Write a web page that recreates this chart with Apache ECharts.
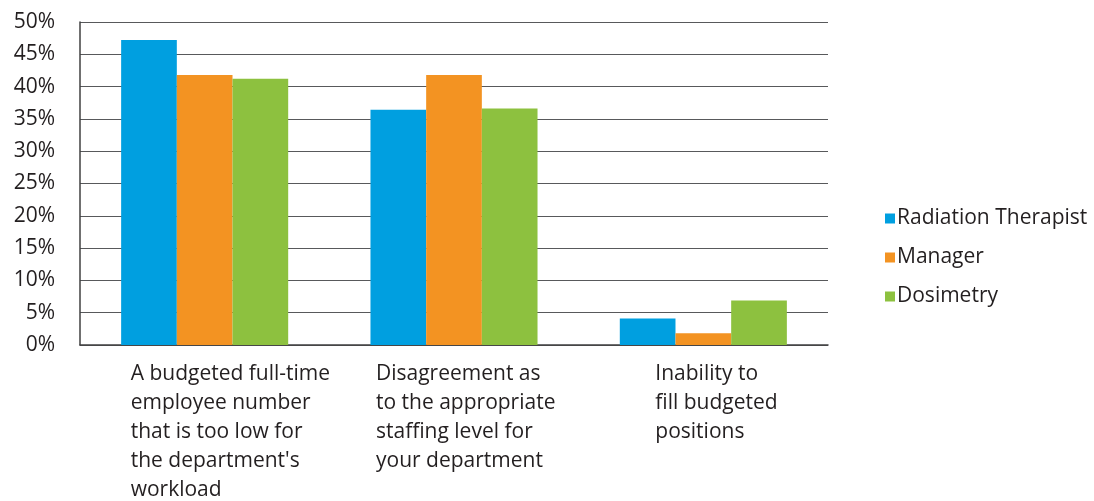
<!DOCTYPE html>
<html>
<head>
<meta charset="utf-8">
<script src="https://cdn.jsdelivr.net/npm/echarts@6/dist/echarts.min.js"></script>
<style>
  html, body { margin: 0; padding: 0; background: #fff; }
  #chart { width: 1094px; height: 501px; }
</style>
</head>
<body>
<div id="chart"></div>
<script>
// Staffing concern categories (multi-line labels)
const categories = [
  "A budgeted full-time\nemployee number\nthat is too low for\nthe department's\nworkload",
  "Disagreement as\nto the appropriate\nstaffing level for\nyour department",
  "Inability to\nfill budgeted\npositions"
];
const seriesNames = ["Radiation Therapist", "Manager", "Dosimetry"];
const radiationTherapist = [47.2, 36.4, 4.1];
const manager = [41.8, 41.8, 1.8];
const dosimetry = [41.2, 36.6, 6.9];
const yTicks = [0, 5, 10, 15, 20, 25, 30, 35, 40, 45, 50];

const colors = ["#009fe0", "#f39322", "#8dc13f"];
const FONT = "Open Sans";
const TEXT = "#231f20";
const FS = 21;

// Per-category label box widths so the left-aligned text block starts where wanted
const labelStyles = ["c0", "c1", "c2"];
const labelWidths = [148, 156, 96];
const rich = {};
labelStyles.forEach((k, i) => {
  rich[k] = { width: labelWidths[i], align: "left", fontSize: FS, lineHeight: 29, fontFamily: FONT, color: TEXT };
});

const chart = echarts.init(document.getElementById("chart"));
const values = [radiationTherapist, manager, dosimetry];

chart.setOption({
  animation: false,
  textStyle: { fontFamily: FONT },
  grid: { left: 80, right: 266, top: 22, bottom: 155 },
  legend: {
    orient: "vertical",
    left: 880,
    top: 203,
    itemWidth: 10,
    itemHeight: 10,
    itemGap: 18,
    icon: "rect",
    data: seriesNames,
    textStyle: { fontSize: FS, color: TEXT, fontFamily: FONT, padding: [2, 0, 0, -3] }
  },
  xAxis: {
    type: "category",
    data: categories,
    axisTick: { show: false },
    axisLine: { lineStyle: { color: "#404041", width: 1.5 } },
    axisLabel: {
      interval: 0,
      margin: 15,
      formatter: (v, i) => v.split("\n").map(l => "{" + labelStyles[i] + "|" + l + "}").join("\n"),
      rich: rich
    }
  },
  yAxis: {
    type: "value",
    min: 0,
    max: 50,
    interval: 5,
    axisLine: { show: true, lineStyle: { color: "#404041", width: 1.5 } },
    axisTick: { show: false },
    splitLine: { lineStyle: { color: "#58595b", width: 1.2 } },
    axisLabel: {
      margin: 25,
      fontSize: FS,
      color: TEXT,
      fontFamily: FONT,
      formatter: v => yTicks.includes(v) ? v + "%" : ""
    }
  },
  series: seriesNames.map((name, i) => ({
    name: name,
    type: "bar",
    data: values[i],
    barGap: "0%",
    barCategoryGap: "33%",
    itemStyle: { color: colors[i] }
  }))
});
</script>
</body>
</html>
